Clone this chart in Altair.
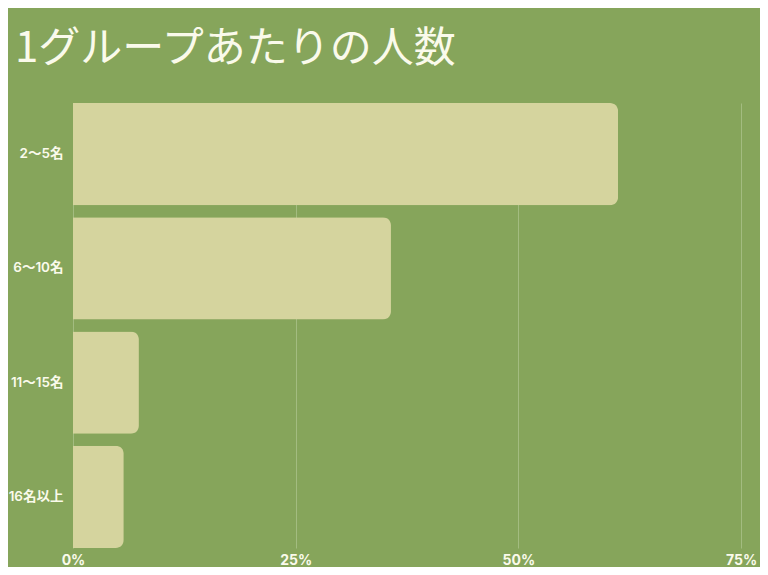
import altair as alt
import pandas as pd

categories = ["2〜5名", "6〜10名", "11〜15名", "16名以上"]
values = [0.612, 0.357, 0.074, 0.057]

df = pd.DataFrame({"group": categories, "share": values})

BG = "#86A55B"
BAR = "#D5D49E"
TXT = "#FAFAEB"

chart = alt.Chart(df).mark_bar(color=BAR, cornerRadiusEnd=8).encode(
    x=alt.X("share:Q",
            scale=alt.Scale(domain=[0, 0.75], nice=False),
            axis=alt.Axis(values=[0, 0.25, 0.5, 0.75], format=".0%", title=None,
                          domain=False, ticks=False, labelPadding=5,
                          labelFont="Inter", labelFontWeight="bold", labelFontSize=14,
                          labelColor=TXT, grid=True, gridColor="#A3BC80", gridWidth=1,
                          labelFlush=False)),
    y=alt.Y("group:N", sort=categories,
            scale=alt.Scale(paddingInner=0.105, paddingOuter=0),
            axis=alt.Axis(title=None, domain=False, ticks=False, labelPadding=10,
                          labelFont="Inter, Noto Sans CJK JP", labelFontWeight=600,
                          labelFontSize=13.5, labelColor=TXT, grid=False)),
).properties(
    width=668,
    height=445,
    background=BG,
    padding={"left": 65, "top": 95, "right": 19, "bottom": 19},
    autosize=alt.AutoSizeParams(type="none"),
    title=alt.TitleParams("1グループあたりの人数", anchor="start", frame="group",
                          dx=-58, offset=32, font="Noto Sans CJK JP", fontSize=42,
                          fontWeight=400, color=TXT),
).configure_view(stroke=None)

chart.save("out.html", embed_options={"renderer": "svg", "actions": False})
